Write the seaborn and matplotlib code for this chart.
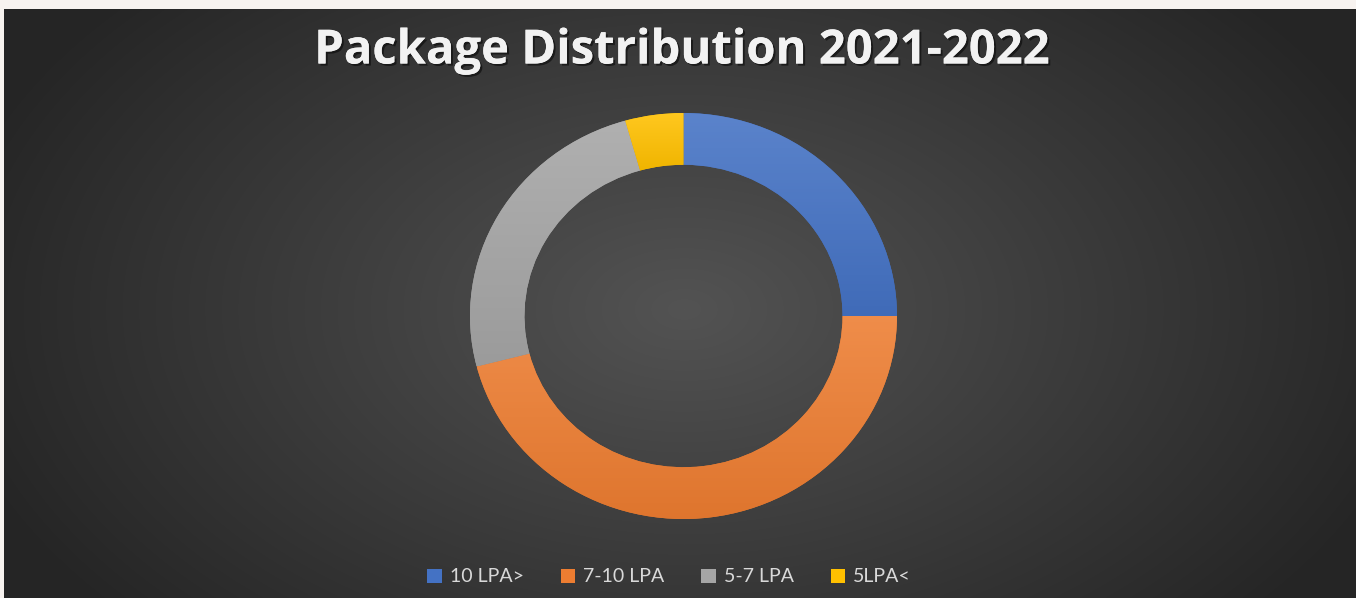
import numpy as np
import matplotlib
matplotlib.use("Agg")
import matplotlib.pyplot as plt
import matplotlib.patheffects as pe
from matplotlib.patches import Patch
from matplotlib.colors import to_rgb
import seaborn as sns

# ---- data ----
categories = ["10 LPA>", "7-10 LPA", "5-7 LPA", "5LPA<"]
shares = [25.0, 46.0, 24.6, 4.4]
colors = ["#4472C4", "#ED7D31", "#A5A5A5", "#FFC000"]
title = "Package Distribution 2021-2022"

sns.set_theme(style="white")
plt.rcParams["font.family"] = ["Lato", "DejaVu Sans"]

W, H = 1356, 598
fig = plt.figure(figsize=(W / 100, H / 100), dpi=100)
fig.patch.set_facecolor("#f7f3f0")

# ---- background radial gradient ----
bg = fig.add_axes([4 / W, 0, 1 - 4 / W, 589 / H])
bg.set_axis_off()
yy, xx = np.mgrid[0:589, 0:1352]
cx, cy = 680, 300
d = np.sqrt(((xx - cx) / 760.0) ** 2 + ((yy - cy) / 470.0) ** 2)
d = np.clip(d, 0, 1)
c_in = np.array(to_rgb("#535353"))
c_out = np.array(to_rgb("#252525"))
img = c_in[None, None, :] * (1 - d[..., None]) + c_out[None, None, :] * d[..., None]
bg.imshow(img, aspect="auto", extent=[0, 1, 0, 1], origin="upper")
bg.set_xlim(0, 1)
bg.set_ylim(0, 1)

# ---- donut ----
cxp, cyp, rh, rv = 683.5, 316.0, 213.5, 203.0
ax = fig.add_axes([(cxp - rh) / W, (H - cyp - rv) / H, 2 * rh / W, 2 * rv / H])
wedges, _ = ax.pie(shares, colors=colors, startangle=90, counterclock=False,
                   radius=1.0, wedgeprops=dict(width=0.255, linewidth=0))
ax.set_aspect("auto")

def mix(c, t, amt):
    c = np.array(to_rgb(c)); t = np.array(to_rgb(t))
    return c * (1 - amt) + t * amt

for w, c in zip(wedges, colors):
    ext = w.get_path().get_extents()
    top = mix(c, "white", 0.12)
    bot = mix(c, "black", 0.06)
    n = 64
    tt = np.linspace(0, 1, n)[:, None]
    grad = top[None, :] * (1 - tt) + bot[None, :] * tt
    grad = np.repeat(grad[:, None, :], 2, axis=1)
    im = ax.imshow(grad, extent=[ext.x0, ext.x1, ext.y0, ext.y1],
                   origin="upper", aspect="auto", zorder=3)
    im.set_clip_path(w)
ax.set_xlim(-1, 1)
ax.set_ylim(-1, 1)
ax.set_axis_off()

# ---- title ----
fig.text(682 / W, 1 - 51 / H, title, ha="center", va="center", color="#f2f2f2",
         fontsize=34, fontweight="bold", family=["Open Sans", "DejaVu Sans"],
         path_effects=[pe.withSimplePatchShadow(offset=(1.5, -1.5), shadow_rgbFace="black", alpha=0.5),
                       pe.Normal()])

# ---- legend ----
handles = [Patch(facecolor=c, edgecolor="none") for c in colors]
leg = fig.legend(handles, categories, loc="center", bbox_to_anchor=(669 / W, 1 - 577 / H),
                 ncol=4, frameon=False, fontsize=14, labelcolor="#d9d9d9",
                 handlelength=0.75, handleheight=0.75, handletextpad=0.4, columnspacing=1.9)

fig.savefig("out.png", dpi=100, facecolor=fig.get_facecolor())
